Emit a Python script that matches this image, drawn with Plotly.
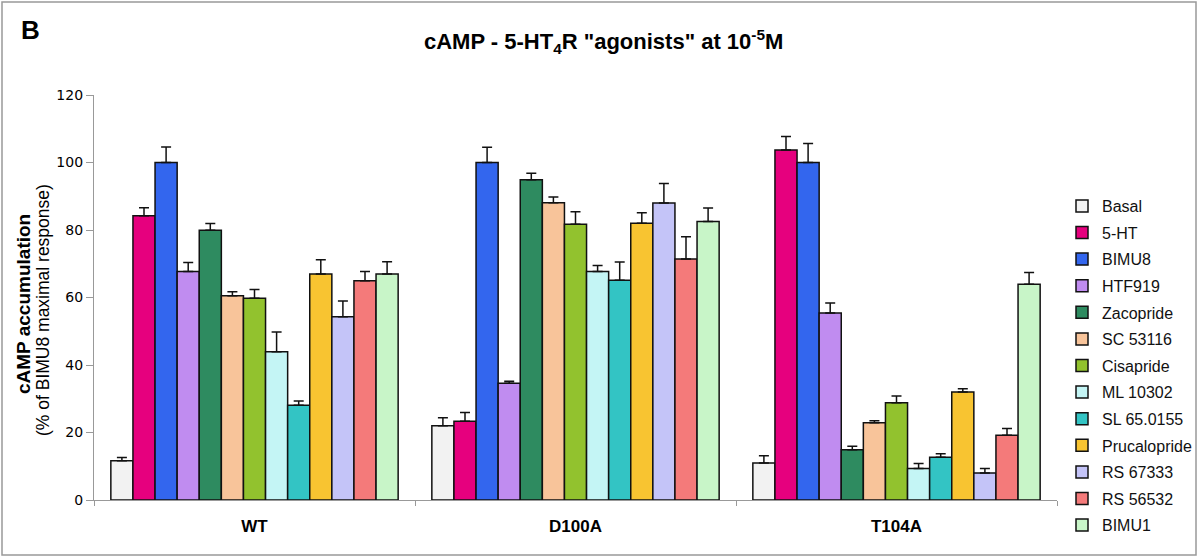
import plotly.graph_objects as go

groups = ["WT", "D100A", "T104A"]
compounds = ["Basal", "5-HT", "BIMU8", "HTF919", "Zacopride", "SC 53116", "Cisapride",
             "ML 10302", "SL 65.0155", "Prucalopride", "RS 67333", "RS 56532", "BIMU1"]
colors = ["#f2f2f2", "#e6007e", "#3366ee", "#c08cf0", "#2e8b60", "#f8c49a", "#92c22e",
          "#c4f5f5", "#33c4c4", "#f8c431", "#c4c4f8", "#f47a7a", "#c8f5c8"]

# values per compound: [WT, D100A, T104A]
values = {
    "Basal":        [11.6, 22.0, 11.0],
    "5-HT":         [84.2, 23.3, 103.7],
    "BIMU8":        [100.0, 100.0, 100.0],
    "HTF919":       [67.7, 34.6, 55.4],
    "Zacopride":    [79.9, 94.9, 14.9],
    "SC 53116":     [60.5, 88.1, 22.9],
    "Cisapride":    [59.8, 81.7, 28.8],
    "ML 10302":     [43.9, 67.7, 9.3],
    "SL 65.0155":   [28.1, 65.1, 12.7],
    "Prucalopride": [67.0, 82.0, 32.0],
    "RS 67333":     [54.3, 88.0, 8.0],
    "RS 56532":     [65.0, 71.4, 19.2],
    "BIMU1":        [67.0, 82.5, 63.9],
}
errors = {
    "Basal":        [1.0, 2.4, 2.1],
    "5-HT":         [2.4, 2.6, 4.0],
    "BIMU8":        [4.6, 4.5, 5.6],
    "HTF919":       [2.7, 0.6, 3.0],
    "Zacopride":    [2.0, 1.9, 1.0],
    "SC 53116":     [1.2, 1.7, 0.6],
    "Cisapride":    [2.6, 3.7, 2.0],
    "ML 10302":     [5.9, 1.8, 1.5],
    "SL 65.0155":   [1.2, 5.4, 1.0],
    "Prucalopride": [4.2, 3.1, 1.0],
    "RS 67333":     [4.7, 5.8, 1.3],
    "RS 56532":     [2.7, 6.6, 2.0],
    "BIMU1":        [3.6, 4.0, 3.5],
}
y_ticks = [0, 20, 40, 60, 80, 100, 120]

W, H = 1198, 557
L, R, T, B = 94, 141, 95, 57
pw, ph = W - L - R, H - T - B

def px_x(px):
    return (px - L) / pw

def px_y(py):
    return (H - B - py) / ph

fig = go.Figure()
for i, c in enumerate(compounds):
    fig.add_trace(go.Bar(
        x=groups, y=values[c], name=c,
        marker=dict(color=colors[i], line=dict(color="#111111", width=1.5)),
        error_y=dict(type="data", array=errors[c], arrayminus=[0] * len(groups),
                     symmetric=False, color="#111111", thickness=1.5, width=5),
        legendgroup=c,
    ))

fig.update_layout(
    width=W, height=H,
    margin=dict(l=L, r=R, t=T, b=B, autoexpand=False),
    paper_bgcolor="white", plot_bgcolor="white",
    barmode="group", bargap=0.105, bargroupgap=0,
    showlegend=True,
    legend=dict(x=px_x(1062), y=px_y(189), xanchor="left", yanchor="top",
                font=dict(family="Liberation Sans, Arial, sans-serif", size=16, color="#111"),
                tracegroupgap=2.8, bgcolor="rgba(0,0,0,0)"),
    xaxis=dict(showline=True, linecolor="#999999", linewidth=1.2,
               ticks="outside", tickson="boundaries", ticklen=5, tickcolor="#999999",
               ticklabelstandoff=10,
               tickfont=dict(family="Liberation Sans Narrow, Arial Narrow, Liberation Sans, sans-serif",
                             size=17, color="#000"),
               tickvals=groups, ticktext=["<b>%s</b>" % g for g in groups],
               showgrid=False),
    yaxis=dict(range=[0, 120], tickvals=y_ticks, showline=True, linecolor="#999999", linewidth=1.2,
               ticks="outside", ticklen=7, tickcolor="#999999", showgrid=False, zeroline=False,
               tickfont=dict(family="DejaVu Sans, Verdana, sans-serif", size=14, color="#000")),
    font=dict(family="Liberation Sans, Arial, sans-serif", color="#000"),
)

fig.add_annotation(xref="paper", yref="paper", x=px_x(23), y=px_y(304),
                   xanchor="center", yanchor="middle",
                   text="<b>cAMP accumulation</b>", textangle=-90, showarrow=False,
                   font=dict(family="Liberation Sans, Arial, sans-serif", size=19, color="#000"))
fig.add_annotation(xref="paper", yref="paper", x=px_x(43), y=px_y(310),
                   xanchor="center", yanchor="middle",
                   text="(% of BIMU8 maximal response)", textangle=-90, showarrow=False,
                   font=dict(family="Liberation Sans, Arial, sans-serif", size=17.5, color="#000"))
fig.add_annotation(xref="paper", yref="paper", x=px_x(603), y=px_y(41),
                   xanchor="center", yanchor="middle",
                   text="<b>cAMP - 5-HT<sub>4</sub>R \"agonists\" at 10<sup>-5</sup>M</b>",
                   showarrow=False,
                   font=dict(family="Liberation Sans, Arial, sans-serif", size=22, color="#000"))
fig.add_annotation(xref="paper", yref="paper", x=px_x(30), y=px_y(30),
                   xanchor="center", yanchor="middle",
                   text="<b>B</b>", showarrow=False,
                   font=dict(family="Liberation Sans, Arial, sans-serif", size=26, color="#000"))
fig.add_shape(type="rect", xref="paper", yref="paper",
              x0=px_x(2), x1=px_x(1196), y0=px_y(555), y1=px_y(2),
              line=dict(color="#999999", width=1.5), fillcolor="rgba(0,0,0,0)")

fig.write_html("out.html", config={"displayModeBar": False},
               post_script="document.body.style.margin='0px';")
